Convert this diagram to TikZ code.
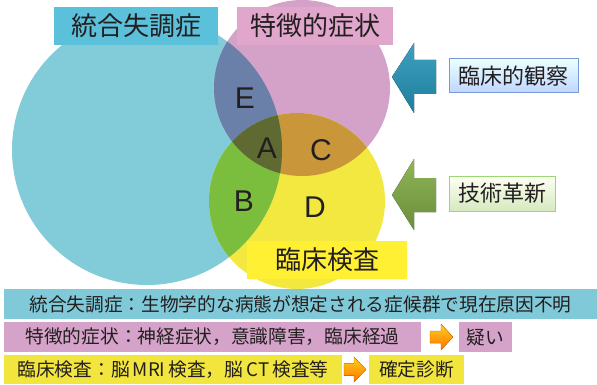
\documentclass[tikz,border=0pt]{standalone}
\usepackage{fontspec}
\setmainfont{Noto Sans CJK JP}
\newfontfamily\latinsans{Liberation Sans}
\definecolor{cyanc}{HTML}{82CCD9}
\definecolor{pinkc}{HTML}{D4A1C9}
\definecolor{yellc}{HTML}{F2E840}
\definecolor{ecol}{HTML}{6A80A8}
\definecolor{bcol}{HTML}{7BBD3D}
\definecolor{ccol}{HTML}{C9963A}
\definecolor{acol}{HTML}{5F6A32}
\definecolor{lblcyan}{HTML}{5BC0DA}
\definecolor{lblpink}{HTML}{E0A6CB}
\definecolor{lblyell}{HTML}{FFF034}
\definecolor{rowcyan}{HTML}{80C9D8}
\definecolor{rowpink}{HTML}{D5A3C9}
\definecolor{rowyell}{HTML}{F2E63E}
\definecolor{txt}{HTML}{231F20}
\tikzset{
  biglbl/.style={inner sep=0, minimum height=38, text=txt, font=\fontsize{26}{28}\selectfont},
  letter/.style={text=txt, font=\latinsans\fontsize{30}{32}\selectfont, inner sep=0},
  bar/.style={inner sep=0, text=txt, font=\fontsize{18.7}{20}\selectfont},
  sidebox/.style={inner sep=0, line width=1pt, text=txt, font=\fontsize{22}{24}\selectfont},
  orarrow/.style={top color=orange!40!yellow!90!white, bottom color=orange!90!red, draw=orange!80!black, line width=0.3pt}
}
\begin{document}
\begin{tikzpicture}[x=1pt,y=-1pt]
\useasboundingbox (0,0) rectangle (597,385);
% circles
\coordinate (cc) at (147,150);
\coordinate (pc) at (302,88);
\coordinate (yc) at (297,201);
\fill[cyanc] (cc) circle[radius=135];
\fill[pinkc] (pc) circle[radius=88];
\fill[yellc] (yc) circle[radius=88];
\begin{scope}
  \clip (pc) circle[radius=88];
  \fill[ccol] (yc) circle[radius=88];
\end{scope}
\begin{scope}
  \clip (cc) circle[radius=135];
  \fill[ecol] (pc) circle[radius=88];
  \fill[bcol] (yc) circle[radius=88];
  \clip (pc) circle[radius=88];
  \fill[acol] (yc) circle[radius=88];
\end{scope}
% region letters
\node[letter] (E) at (245,98) {E};
\node[letter] (A) at (267,148) {A};
\node[letter] (C) at (321,150) {C};
\node[letter] (B) at (244,201) {B};
\node[letter] (D) at (315,207) {D};
% set labels
\node[biglbl, fill=lblcyan, minimum width=164] (lsch) at (136,26) {統合失調症};
\node[biglbl, fill=lblpink, minimum width=156] (lsym) at (315,26) {特徴的症状};
\node[biglbl, fill=lblyell, minimum width=160] (lexam) at (327,260) {臨床検査};
% side boxes
\node[sidebox, draw=cyan!45!blue!55!white, top color=cyan!8!white, bottom color=cyan!35!blue!25!white,
      minimum width=129, minimum height=34] (obs) at (513.5,76) {臨床的観察};
\node[sidebox, draw=green!45!olive!55!white, top color=green!5!yellow!5!white, bottom color=green!30!olive!25!white,
      minimum width=106, minimum height=35] (tech) at (502,193.5) {技術革新};
% big arrows
\fill[top color={rgb,255:red,62;green,160;blue,192}, bottom color={rgb,255:red,30;green,126;blue,156}]
  (392,77) -- (414,43) -- (414,60) -- (436,60) -- (436,94) -- (414,94) -- (414,113) -- cycle;
\fill[top color={rgb,255:red,144;green,180;blue,86}, bottom color={rgb,255:red,106;green,142;blue,59}]
  (392,195) -- (414,159) -- (414,178) -- (436,178) -- (436,212) -- (414,212) -- (414,230) -- cycle;
% bottom rows
\node[bar, fill=rowcyan, minimum width=593, minimum height=30] (r1) at (300.5,304)
  {統合失調症：生物学的な病態が想定される症候群で現在原因不明};
\node[bar, fill=rowpink, minimum width=417, minimum height=30] (r2) at (212.5,337)
  {特徴的症状：神経症状，意識障害，臨床経過};
\node[bar, fill=rowpink, minimum width=53, minimum height=30] (r2b) at (485.5,337) {疑い};
\node[bar, fill=rowyell, minimum width=338, minimum height=29] (r3) at (173,369.5)
  {臨床検査：脳\,MRI\,検査，脳\,CT\,検査等};
\node[bar, fill=rowyell, minimum width=95, minimum height=29] (r3b) at (416.5,369.5) {確定診断};
% small orange arrows
\filldraw[orarrow] (430,331) -- (441,331) -- (441,324) -- (453,337) -- (441,350) -- (441,343) -- (430,343) -- cycle;
\filldraw[orarrow] (344,363.5) -- (354,363.5) -- (354,357) -- (366,369.5) -- (354,382) -- (354,375.5) -- (344,375.5) -- cycle;
\end{tikzpicture}
\end{document}
